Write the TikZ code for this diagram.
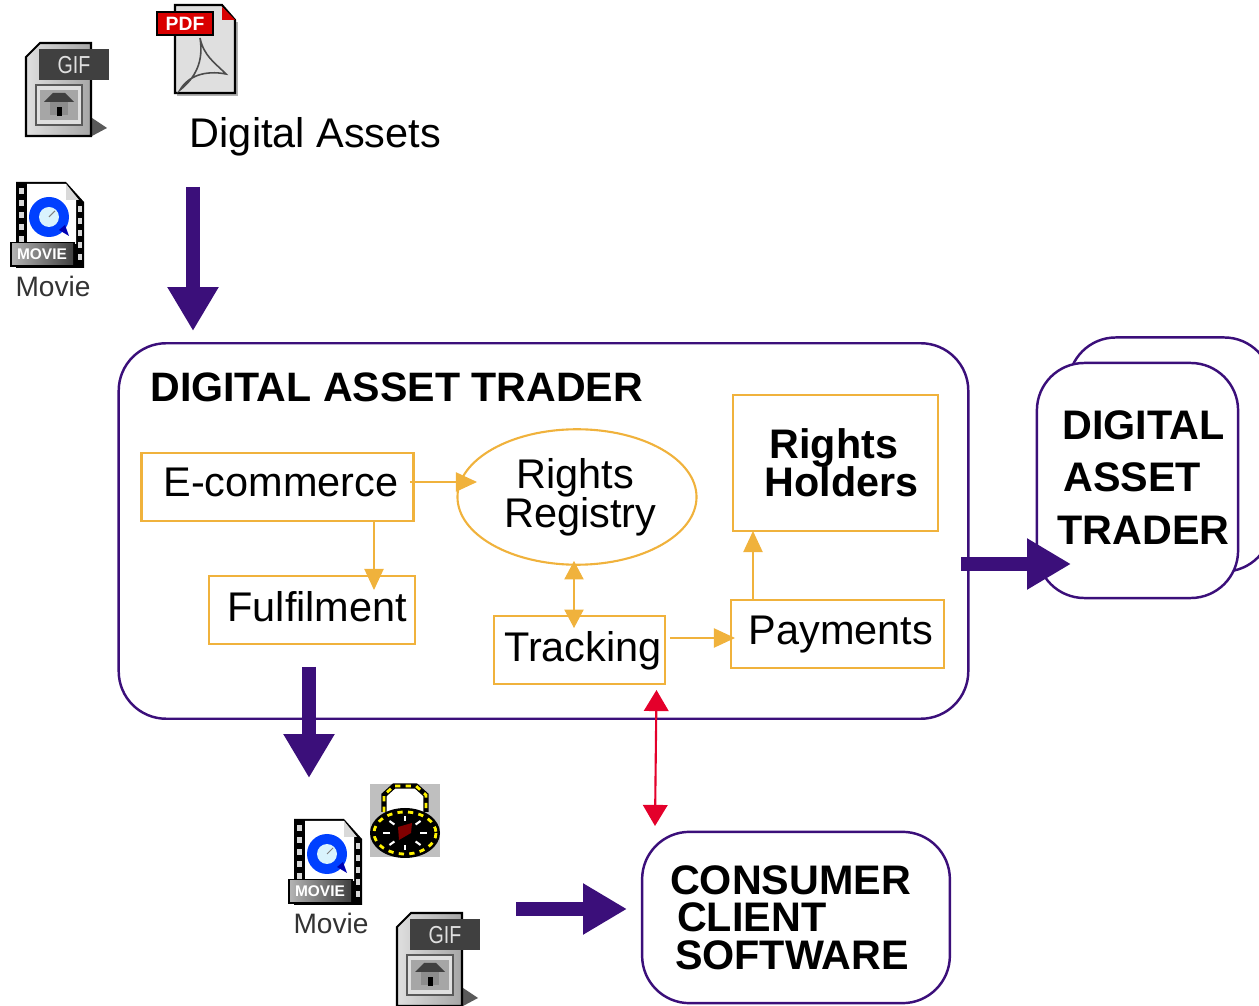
\documentclass[tikz,border=0pt]{standalone}
\usepackage{fontspec}
\setmainfont{Liberation Sans}
\usetikzlibrary{arrows.meta, shapes.geometric}

\newcommand{\px}{0.5669pt}
\definecolor{darkpurple}{HTML}{3B0F7A}
\definecolor{boxorange}{HTML}{F0B23C}
\definecolor{linkred}{HTML}{E4002B}
\setlength{\normallineskiplimit}{-20pt}
\setlength{\lineskiplimit}{-20pt}

\tikzset{
    bigfont/.style={font=\fontsize{23.6pt}{22.2pt}\selectfont},
    boldfont/.style={font=\fontsize{23.5pt}{#1}\selectfont\bfseries},
    roundbox/.style={draw=darkpurple, line width=1.4pt, rounded corners=27pt, inner sep=0pt, boldfont=21.3pt, align=left},
    orangebox/.style={draw=boxorange, line width=1.2pt, bigfont, inner xsep=0pt, inner ysep=0pt, text depth=3pt},
    bigarrow/.style={draw=darkpurple, line width=8pt, -{Triangle[length=25pt, width=27.4pt, fill=darkpurple]}},
    thinarrow/.style={draw=boxorange, line width=0.6pt, -{Triangle[length=12pt, width=11pt, fill=boxorange]}},
    bothways/.style={draw=boxorange, line width=0.6pt, {Triangle[length=10.5pt, width=11pt, fill=boxorange]}-{Triangle[length=10.5pt, width=11pt, fill=boxorange]}},
    redarrow/.style={draw=linkred, line width=1.2pt, {Triangle[length=12pt, width=14pt, fill=linkred]}-{Triangle[length=12pt, width=14pt, fill=linkred]}},
    gificon/.pic={
        \fill[black!65] (66,75) -- (81,85) -- (66,93) -- cycle;
        \draw[black, line width=1.2pt, left color=gray!25, right color=gray!70] (14,0) -- (65,0) -- (65,93) -- (0,93) -- (0,14) -- cycle;
        \fill[black!75] (13,6) rectangle (83,37);
        \node[text=gray!25, inner sep=0pt, font=\fontsize{14pt}{14pt}\selectfont, xscale=0.8] (-tag) at (48,22) {GIF};
        \draw[black!65, line width=1pt, fill=gray!25] (10,42) rectangle (56,82);
        \fill[gray!70] (14,47) rectangle (52,77);
        \fill[black!75] (18,59) -- (27,50) -- (39,50) -- (48,59) -- cycle;
        \fill[gray!90] (24,59) rectangle (42,72);
        \fill[black] (31,64) rectangle (36,73);
    },
    movieicon/.pic={
        \fill[black] (0,0) -- (50,0) -- (68,20) -- (68,86) -- (0,86) -- cycle;
        \fill[white] (11,2) -- (50,2) -- (60,16) -- (60,62) -- (11,62) -- cycle;
        \fill[gray!30] (50,2) -- (50,18) -- (63,18) -- cycle;
        % Film holes
        \foreach \y in {6,18,30,42,54} {
            \fill[white!85!black] (3,\y) rectangle (8,\y+6);
        }
        \foreach \y in {24,36,48,60,72} {
            \fill[white!85!black] (62,\y) rectangle (66,\y+6);
        }
        % Clock
        \fill[blue!75!cyan] (33,35) circle (20);
        \fill[blue!70!black] (43,48) -- (53,54) -- (49,43) -- cycle;
        \fill[cyan!15] (33,35) circle (10);
        \draw[gray, line width=0.6pt] (33,35) -- (39,29);
        % Tag
        \fill[black] (-6,60) rectangle (59,85);
        \fill[left color=gray!60, right color=black!75] (-4,62) rectangle (57,83);
        \node[text=white, inner sep=0pt, font=\fontsize{8.8pt}{9pt}\selectfont\bfseries] (-tag) at (26,72) {MOVIE};
        \node[text=black!80, inner sep=0pt, font=\fontsize{16pt}{16pt}\selectfont] (-name) at (37,104) {Movie};
    }
}

\begin{document}
\begin{tikzpicture}[x=0.02cm, y=-0.02cm]
    \useasboundingbox (0,0) rectangle (1259,1006);

    % Icons at the top
    \pic (gifa) at (26,43) {gificon};
    \pic (moviea) at (16,182) {movieicon};
    \draw[gray!60, line width=1.2pt] (178,8) -- (178,95) -- (237,95) -- (237,22);
    \draw[black, line width=1.2pt, fill=gray!25] (175,5) -- (222,5) -- (235,20) -- (235,93) -- (175,93) -- cycle;
    \fill[red!85!black] (222,7) -- (235,20) -- (222,20) -- cycle;
    \draw[gray!60!black, line width=0.9pt] (200,38) .. controls (204,62) and (195,78) .. (180,90) .. controls (188,76) and (205,70) .. (226,74) .. controls (214,62) and (204,56) .. (200,38) -- cycle;
    \node[draw=black, fill=red!85!black, text=white, line width=1pt, inner sep=0pt, minimum width=56*\px, minimum height=23*\px, font=\fontsize{11pt}{11pt}\selectfont\bfseries] (pdftag) at (185,23.5) {PDF};
    \node[bigfont, anchor=west, inner sep=0pt] (assets) at (189.5,137) {Digital Assets};

    % Trader boxes
    \node[roundbox, minimum width=853*\px, minimum height=377*\px] (trader) at (543.5,531) {};
    \node[anchor=west, inner sep=0pt, font=\fontsize{23.4pt}{24pt}\selectfont\bfseries] (title) at (150,387) {DIGITAL ASSET TRADER};
    \node[roundbox, minimum width=204*\px, minimum height=235*\px] (backtrader) at (1170,454.5) {};
    \node[roundbox, fill=white, minimum width=202*\px, minimum height=236*\px, boldfont=30pt] (fronttrader) at (1137.5,480.5) {\hspace*{9.6pt}DIGITAL\\\hspace*{10.2pt}ASSET\\\hspace*{6.8pt}TRADER\rule[-3.4pt]{0pt}{0pt}};
    \node[roundbox, minimum width=309*\px, minimum height=172*\px] (consumer) at (796,917.5) {CONSUMER\hspace*{6.2pt}\\\hspace*{4pt}CLIENT\\\hspace*{2.8pt}SOFTWARE};

    % Inner boxes
    \node[orangebox, minimum width=273*\px, minimum height=68*\px, text height=14.3pt] (ecommerce) at (277.5,487) {\hspace*{4pt}E-commerce};
    \node[orangebox, minimum width=206*\px, minimum height=68*\px, text height=16.6pt] (fulfilment) at (312,610) {\hspace*{6pt}Fulfilment};
    \node[orangebox, minimum width=171*\px, minimum height=68*\px, text height=16.6pt] (tracking) at (579.5,650) {\hspace*{4pt}Tracking};
    \node[orangebox, minimum width=213*\px, minimum height=68*\px, text height=15.5pt] (payments) at (837.5,634) {\hspace*{4pt}Payments};
    \node[draw=boxorange, line width=1.2pt, minimum width=205*\px, minimum height=136*\px, inner sep=0pt, align=left, boldfont=21.5pt] (holders) at (835.5,463) {\hspace*{9.6pt}Rights\\\hspace*{6.8pt}Holders};
    \node[draw=boxorange, line width=1.2pt, ellipse, minimum width=240*\px, minimum height=136*\px, inner sep=0pt, align=center, bigfont] (registry) at (577,497) {\hspace*{-2pt}Rights\\\hspace*{4pt}Registry};

    % Orange links
    \coordinate (ecomout) at (410,482);
    \coordinate (regin) at (477,482);
    \coordinate (ecomdown) at (374,521);
    \coordinate (fulin) at (374,590);
    \coordinate (regdown) at (574,561);
    \coordinate (trackup) at (574,628);
    \coordinate (trackout) at (670,638);
    \coordinate (payin) at (735,638);
    \coordinate (payup) at (753,599);
    \coordinate (holdin) at (753,531);
    \draw[thinarrow] (ecomout) -- (regin);
    \draw[thinarrow] (ecomdown) -- (fulin);
    \draw[bothways] (regdown) -- (trackup);
    \draw[thinarrow] (trackout) -- (payin);
    \draw[thinarrow] (payup) -- (holdin);

    % Red link
    \coordinate (redtop) at (656.5,690);
    \coordinate (redbottom) at (655,826);
    \draw[redarrow] (redtop) -- (redbottom);

    % Thick arrows
    \coordinate (assetsout) at (193,187);
    \coordinate (traderin) at (193,331);
    \coordinate (traderdown) at (309,667);
    \coordinate (iconsin) at (309,778);
    \coordinate (traderout) at (961,564);
    \coordinate (backin) at (1071,564);
    \coordinate (iconsout) at (516,909);
    \coordinate (consumerin) at (627,909);
    \draw[bigarrow] (assetsout) -- (traderin);
    \draw[bigarrow] (traderdown) -- (iconsin);
    \draw[bigarrow] (traderout) -- (backin);
    \draw[bigarrow] (iconsout) -- (consumerin);

    % Icons at the bottom
    \pic (movieb) at (294,819) {movieicon};
    \pic (gifb) at (397,913) {gificon};

    % Padlock
    \fill[gray!50] (370,784) rectangle (440,857);
    \draw[black, line width=3pt, fill=white] (384,812) -- (384,795) -- (394,786) -- (416,786) -- (426,795) -- (426,812);
    \draw[yellow, line width=1.6pt, dash pattern=on 3pt off 3pt] (384,812) -- (384,795) -- (394,786) -- (416,786) -- (426,795) -- (426,812);
    \fill[black] (405,833) ellipse (35 and 25);
    \draw[yellow, line width=1.6pt, dash pattern=on 3pt off 3pt] (405,833) ellipse (31 and 21);
    \foreach \a in {0,45,...,315} {
        \draw[white, line width=1.2pt] (405,833) ++(\a:15 and 12) -- ++(\a:7 and 5);
    }
    \fill[red!50!black] (398,827) -- (412,823) -- (411,833) -- (399,840) -- cycle;
\end{tikzpicture}
\end{document}
